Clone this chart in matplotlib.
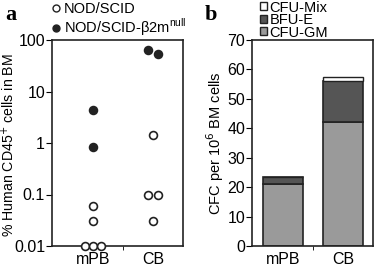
import matplotlib
matplotlib.use("Agg")
import matplotlib.pyplot as plt
from matplotlib.lines import Line2D
from matplotlib.patches import Patch

plt.rcParams['font.family'] = ['Liberation Sans', 'DejaVu Sans']

# Panel a data
groups_a = ["mPB", "CB"]
open_x = [1, 1, 0.87, 1.0, 1.13, 2, 1.92, 2.08, 2]
open_y = [0.06, 0.03, 0.01, 0.01, 0.01, 1.4, 0.1, 0.1, 0.03]
filled_x = [1, 1, 1.92, 2.08]
filled_y = [4.3, 0.85, 64, 53]

# Panel b data
groups_b = ["mPB", "CB"]
cfu_gm = [21.2, 42.0]
bfu_e = [2.3, 14.1]
cfu_mix = [0.0, 1.4]

fig = plt.figure(figsize=(3.84, 2.74), dpi=100)
W, H = 384, 274
def ax_rect(l, t, r, b):
    return [l / W, 1 - b / H, (r - l) / W, (b - t) / H]

fs = 11.5
fl = 10.5
# ---- Panel a ----
ax1 = fig.add_axes(ax_rect(52, 40, 183, 246))
ax1.set_yscale('log')
ax1.set_ylim(0.01, 100)
ax1.set_xlim(0.317, 2.5)
ax1.scatter(open_x, open_y, s=32, facecolors='white', edgecolors='#222222', linewidths=1.2, zorder=3, clip_on=False)
ax1.scatter(filled_x, filled_y, s=32, facecolors='#222222', edgecolors='#222222', linewidths=1.2, zorder=3, clip_on=False)
ax1.set_yticks([0.01, 0.1, 1, 10, 100])
ax1.set_yticklabels(["0.01", "0.1", "1", "10", "100"])
ax1.minorticks_off()
ax1.set_xticks([1, 2])
ax1.set_xticklabels(groups_a)
ax1.set_xticks([1.5], minor=True)
ax1.tick_params(axis='x', which='major', length=0, labelsize=fs, pad=4)
ax1.tick_params(axis='x', which='minor', length=3, direction='out')
ax1.tick_params(axis='y', labelsize=fs, length=4, direction='out', pad=1)
ax1.set_ylabel("% Human CD45$^{+}$ cells in BM", fontsize=10.2)
ax1.yaxis.set_label_coords(-35 / 131, 0.49)
for sp in ax1.spines.values():
    sp.set_linewidth(1.2)
    sp.set_color('#222222')
leg1 = [Line2D([], [], marker='o', linestyle='none', markerfacecolor='white', markeredgecolor='#222222', markersize=5, label='NOD/SCID'),
        Line2D([], [], marker='o', linestyle='none', markerfacecolor='#222222', markeredgecolor='#222222', markersize=5, label='NOD/SCID-β2m$^{\\mathregular{null}}$')]
fig.legend(handles=leg1, loc='upper left', bbox_to_anchor=(52 / W, 1 - 2 / H), frameon=False,
           fontsize=fl, handlelength=0.6, handletextpad=0.2, labelspacing=0.05, borderpad=0, borderaxespad=0)

# ---- Panel b ----
ax2 = fig.add_axes(ax_rect(252, 40, 373, 246))
xb = [0, 1]
w = 0.67
ax2.bar(xb, cfu_gm, width=w, color='#9a9a9a', edgecolor='#222222', linewidth=1.2, zorder=2)
ax2.bar(xb, bfu_e, width=w, bottom=cfu_gm, color='#555555', edgecolor='#222222', linewidth=1.2, zorder=2)
bot2 = [a + b for a, b in zip(cfu_gm, bfu_e)]
ax2.bar(xb, cfu_mix, width=w, bottom=bot2, color='white', edgecolor='#222222', linewidth=1.0, zorder=2)
ax2.set_ylim(0, 70)
ax2.set_xlim(-0.516, 1.5)
ax2.set_yticks(range(0, 71, 10))
ax2.set_xticks(xb)
ax2.set_xticklabels(groups_b)
ax2.set_xticks([0.5], minor=True)
ax2.tick_params(axis='x', which='major', length=0, labelsize=fs, pad=4)
ax2.tick_params(axis='x', which='minor', length=3, direction='out')
ax2.tick_params(axis='y', labelsize=fs, length=4, direction='out', pad=1)
ax2.set_ylabel("CFC per 10$^{6}$ BM cells", fontsize=fl, labelpad=1)
for sp in ax2.spines.values():
    sp.set_linewidth(1.2)
    sp.set_color('#222222')
leg2 = [Patch(facecolor='white', edgecolor='#222222', label='CFU-Mix'),
        Patch(facecolor='#555555', edgecolor='#222222', label='BFU-E'),
        Patch(facecolor='#9a9a9a', edgecolor='#222222', label='CFU-GM')]
fig.legend(handles=leg2, loc='upper left', bbox_to_anchor=(260 / W, 1 - 0.5 / H), frameon=False,
           fontsize=fl, handlelength=0.45, handleheight=0.45, handletextpad=0.2, labelspacing=-0.1, borderpad=0, borderaxespad=0)

fig.text(5 / W, 1 - 20 / H, "a", fontsize=16, fontweight='bold', family='Liberation Serif')
fig.text(205 / W, 1 - 20 / H, "b", fontsize=16, fontweight='bold', family='Liberation Serif')

fig.savefig("out.png", dpi=100)
